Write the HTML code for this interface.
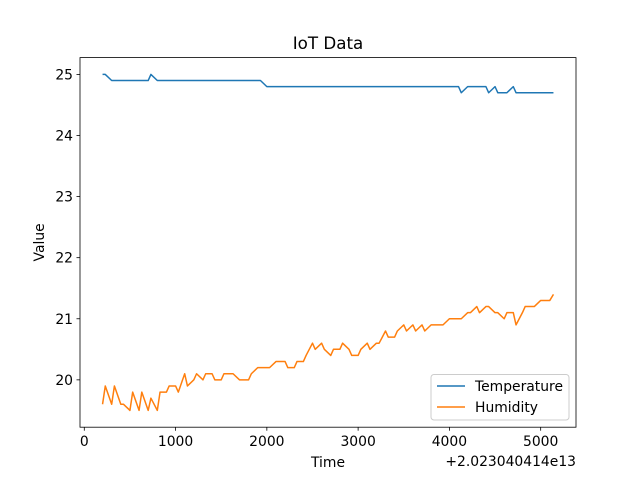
<!DOCTYPE html>
<html><head><meta charset="utf-8"><style>
body{margin:0;background:#fff}
svg text{font-family:"DejaVu Sans","Liberation Sans",sans-serif;fill:#000}
</style></head><body>
<svg id="chart" width="640" height="480" viewBox="0 0 640 480" xmlns="http://www.w3.org/2000/svg">
<rect width="640" height="480" fill="#fff"/>
<text x="328" y="49" font-size="16.7" text-anchor="middle">IoT Data</text>
<g id="plot"></g>
<rect x="80" y="57.6" width="496" height="369.6" fill="none" stroke="#000" stroke-width="0.8"/>
<text x="328" y="467" font-size="13.9" text-anchor="middle">Time</text>
<text x="576" y="466" font-size="13.9" text-anchor="end">+2.023040414e13</text>
<text transform="translate(44,242.4) rotate(-90)" font-size="13.9" text-anchor="middle">Value</text>
<g>
<rect x="431" y="374.5" width="138" height="45.5" rx="3" fill="#fff" fill-opacity="0.8" stroke="#ccc" stroke-width="1"/>
<line x1="437" y1="386" x2="465" y2="386" stroke="#1f77b4" stroke-width="1.5"/>
<text x="475" y="391" font-size="13.9">Temperature</text>
<line x1="437" y1="407" x2="465" y2="407" stroke="#ff7f0e" stroke-width="1.5"/>
<text x="475" y="412" font-size="13.9">Humidity</text>
</g>
</svg>
<script>
const times=[200,230,300,330,400,430,500,530,600,630,700,730,800,830,900,930,1000,1030,1100,1130,1200,1230,1300,1330,1400,1430,1500,1530,1600,1630,1700,1730,1800,1830,1900,1930,2000,2030,2100,2130,2200,2230,2300,2330,2400,2430,2500,2530,2600,2630,2700,2730,2800,2830,2900,2930,3000,3030,3100,3130,3200,3230,3300,3330,3400,3430,3500,3530,3600,3630,3700,3730,3800,3830,3900,3930,4000,4030,4100,4130,4200,4230,4300,4330,4400,4430,4500,4530,4600,4630,4700,4730,4800,4830,4900,4930,5000,5030,5100,5140];
const temperature=[25.0,25.0,24.9,24.9,24.9,24.9,24.9,24.9,24.9,24.9,24.9,25.0,24.9,24.9,24.9,24.9,24.9,24.9,24.9,24.9,24.9,24.9,24.9,24.9,24.9,24.9,24.9,24.9,24.9,24.9,24.9,24.9,24.9,24.9,24.9,24.9,24.8,24.8,24.8,24.8,24.8,24.8,24.8,24.8,24.8,24.8,24.8,24.8,24.8,24.8,24.8,24.8,24.8,24.8,24.8,24.8,24.8,24.8,24.8,24.8,24.8,24.8,24.8,24.8,24.8,24.8,24.8,24.8,24.8,24.8,24.8,24.8,24.8,24.8,24.8,24.8,24.8,24.8,24.8,24.7,24.8,24.8,24.8,24.8,24.8,24.7,24.8,24.7,24.7,24.7,24.8,24.7,24.7,24.7,24.7,24.7,24.7,24.7,24.7,24.7];
const humidity=[19.6,19.9,19.6,19.9,19.6,19.6,19.5,19.8,19.5,19.8,19.5,19.7,19.5,19.8,19.8,19.9,19.9,19.8,20.1,19.9,20.0,20.1,20.0,20.1,20.1,20.0,20.0,20.1,20.1,20.1,20.0,20.0,20.0,20.1,20.2,20.2,20.2,20.2,20.3,20.3,20.3,20.2,20.2,20.3,20.3,20.4,20.6,20.5,20.6,20.5,20.4,20.5,20.5,20.6,20.5,20.4,20.4,20.5,20.6,20.5,20.6,20.6,20.8,20.7,20.7,20.8,20.9,20.8,20.9,20.8,20.9,20.8,20.9,20.9,20.9,20.9,21.0,21.0,21.0,21.0,21.1,21.1,21.2,21.1,21.2,21.2,21.1,21.1,21.0,21.1,21.1,20.9,21.1,21.2,21.2,21.2,21.3,21.3,21.3,21.4];
const xTicks=[0,1000,2000,3000,4000,5000];
const yTicks=[20,21,22,23,24,25];
const L=80,R=576,T=57.6,B=427.2;
const allY=temperature.concat(humidity);
const xmin0=Math.min(...times),xmax0=Math.max(...times);
const ymin0=Math.min(...allY),ymax0=Math.max(...allY);
const xpad=(xmax0-xmin0)*0.05,ypad=(ymax0-ymin0)*0.05;
const xmin=xmin0-xpad,xmax=xmax0+xpad,ymin=ymin0-ypad,ymax=ymax0+ypad;
function sx(v){return L+(v-xmin)/(xmax-xmin)*(R-L);}
function sy(v){return B-(v-ymin)/(ymax-ymin)*(B-T);}
const NS="http://www.w3.org/2000/svg";
const g=document.getElementById('plot');
function mk(tag,attrs){const e=document.createElementNS(NS,tag);for(const k in attrs)e.setAttribute(k,attrs[k]);g.appendChild(e);return e;}
xTicks.forEach(t=>{
  const x=sx(t);
  const ln=mk('line',{x1:x,y1:B,x2:x,y2:B+3.5,stroke:'#000','stroke-width':0.8});
  
  
  const tx=mk('text',{x:x,y:B+19,'font-size':13.9,'text-anchor':'middle'});
  tx.textContent=String(t);
  
  
});
yTicks.forEach(t=>{
  const y=sy(t);
  const ln=mk('line',{x1:L-3.5,y1:y,x2:L,y2:y,stroke:'#000','stroke-width':0.8});
  
  
  const tx=mk('text',{x:L-7,y:y+5,'font-size':13.9,'text-anchor':'end'});
  tx.textContent=String(t);
  
  
});
function series(vals,color,name){
  const d=vals.map((v,i)=>(i?'L':'M')+sx(times[i]).toFixed(2)+' '+sy(v).toFixed(2)).join(' ');
  const p=mk('path',{d:d,fill:'none',stroke:color,'stroke-width':1.5,'stroke-linejoin':'round'});
  
  
}
series(temperature,'#1f77b4','temperature-line');
series(humidity,'#ff7f0e','humidity-line');
</script>
</body></html>
